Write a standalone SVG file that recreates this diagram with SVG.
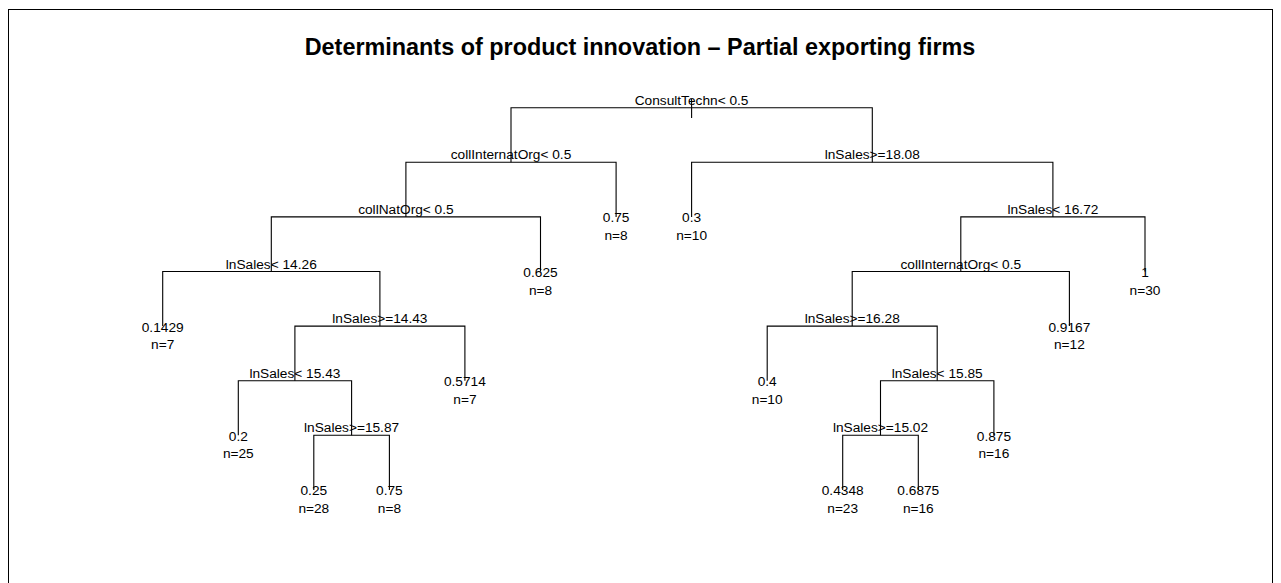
<svg xmlns="http://www.w3.org/2000/svg" width="1281" height="583" viewBox="0 0 1281 583">
<style>
text{font-family:"Liberation Sans",Arial,sans-serif;fill:#000;text-anchor:middle}
.t{font-size:23.4px;font-weight:bold}
.s{font-size:13.7px}
.l{font-size:13.7px}
#connectors path{fill:none;stroke:#000;stroke-width:1.1}
</style>
<rect x="8.5" y="9.5" width="1264" height="620" fill="#fff" stroke="#000" stroke-width="1"/>
<text class="t" x="640" y="55">Determinants of product innovation – Partial exporting firms</text>
<g id="connectors">
<path d="M691.6 99V118"/>
<path d="M511 162.3V107.7H872.3V162.3"/>
<path d="M405.9 216.9V162.3H616.1V216.9"/>
<path d="M271.3 271.5V216.9H540.5V271.5"/>
<path d="M162.7 326.1V271.5H379.9V326.1"/>
<path d="M294.9 380.7V326.1H464.9V380.7"/>
<path d="M238.3 435.3V380.7H351.6V435.3"/>
<path d="M313.8 489.9V435.3H389.4V489.9"/>
<path d="M691.6 216.9V162.3H1052.9V216.9"/>
<path d="M960.8 271.5V216.9H1145V271.5"/>
<path d="M852.2 326.1V271.5H1069.4V326.1"/>
<path d="M767.2 380.7V326.1H937.2V380.7"/>
<path d="M880.5 435.3V380.7H993.9V435.3"/>
<path d="M842.7 489.9V435.3H918.3V489.9"/>
</g>
<g id="n_root"><text class="s" x="691.6" y="104.7">ConsultTechn&lt; 0.5</text></g>
<g id="n_A"><text class="s" x="511" y="159.3">collInternatOrg&lt; 0.5</text></g>
<g id="n_C"><text class="s" x="405.9" y="213.9">collNatOrg&lt; 0.5</text></g>
<g id="n_D"><text class="s" x="271.3" y="268.5">lnSales&lt; 14.26</text></g>
<g id="n_E"><text class="s" x="379.9" y="323.1">lnSales&gt;=14.43</text></g>
<g id="n_F"><text class="s" x="294.9" y="377.7">lnSales&lt; 15.43</text></g>
<g id="n_G"><text class="s" x="351.6" y="432.3">lnSales&gt;=15.87</text></g>
<g id="n_B"><text class="s" x="872.3" y="159.3">lnSales&gt;=18.08</text></g>
<g id="n_H"><text class="s" x="1052.9" y="213.9">lnSales&lt; 16.72</text></g>
<g id="n_I"><text class="s" x="960.8" y="268.5">collInternatOrg&lt; 0.5</text></g>
<g id="n_J"><text class="s" x="852.2" y="323.1">lnSales&gt;=16.28</text></g>
<g id="n_K"><text class="s" x="937.2" y="377.7">lnSales&lt; 15.85</text></g>
<g id="n_L"><text class="s" x="880.5" y="432.3">lnSales&gt;=15.02</text></g>
<g id="leaf1"><text class="l" x="162.7" y="331.6">0.1429</text><text class="l" x="162.7" y="349.1">n=7</text></g>
<g id="leaf2"><text class="l" x="238.3" y="440.8">0.2</text><text class="l" x="238.3" y="458.3">n=25</text></g>
<g id="leaf3"><text class="l" x="313.8" y="495.4">0.25</text><text class="l" x="313.8" y="512.9">n=28</text></g>
<g id="leaf4"><text class="l" x="389.4" y="495.4">0.75</text><text class="l" x="389.4" y="512.9">n=8</text></g>
<g id="leaf5"><text class="l" x="464.9" y="386.2">0.5714</text><text class="l" x="464.9" y="403.7">n=7</text></g>
<g id="leaf6"><text class="l" x="540.5" y="277">0.625</text><text class="l" x="540.5" y="294.5">n=8</text></g>
<g id="leaf7"><text class="l" x="616.1" y="222.4">0.75</text><text class="l" x="616.1" y="239.9">n=8</text></g>
<g id="leaf8"><text class="l" x="691.6" y="222.4">0.3</text><text class="l" x="691.6" y="239.9">n=10</text></g>
<g id="leaf9"><text class="l" x="767.2" y="386.2">0.4</text><text class="l" x="767.2" y="403.7">n=10</text></g>
<g id="leaf10"><text class="l" x="842.7" y="495.4">0.4348</text><text class="l" x="842.7" y="512.9">n=23</text></g>
<g id="leaf11"><text class="l" x="918.3" y="495.4">0.6875</text><text class="l" x="918.3" y="512.9">n=16</text></g>
<g id="leaf12"><text class="l" x="993.9" y="440.8">0.875</text><text class="l" x="993.9" y="458.3">n=16</text></g>
<g id="leaf13"><text class="l" x="1069.4" y="331.6">0.9167</text><text class="l" x="1069.4" y="349.1">n=12</text></g>
<g id="leaf14"><text class="l" x="1145" y="277">1</text><text class="l" x="1145" y="294.5">n=30</text></g>
</svg>
